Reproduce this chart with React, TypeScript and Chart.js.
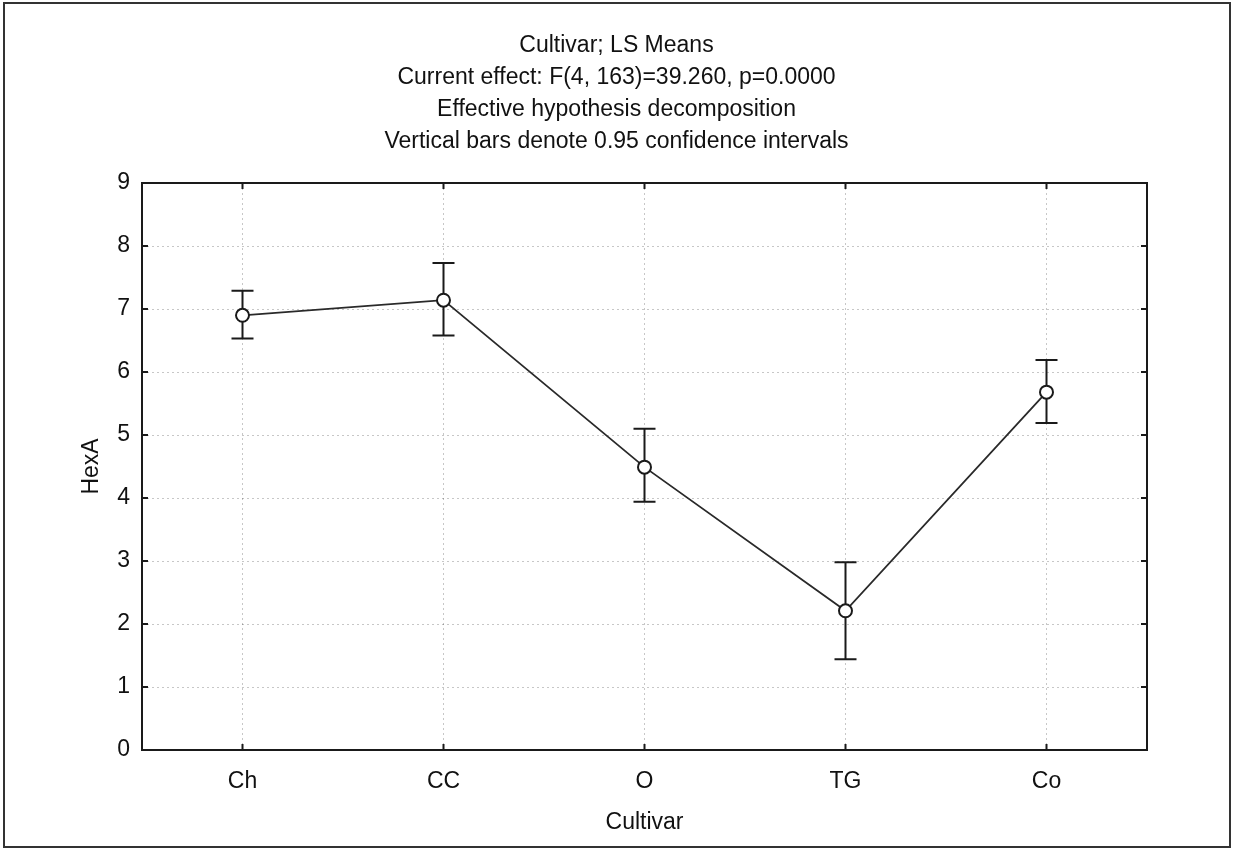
import React, { useEffect, useRef } from "react";
import { Chart, registerables } from "chart.js";

Chart.register(...registerables);

const categories = ["Ch", "CC", "O", "TG", "Co"];
const means = [6.9, 7.14, 4.49, 2.21, 5.68];
const lower = [6.53, 6.58, 3.94, 1.44, 5.19];
const upper = [7.29, 7.73, 5.1, 2.98, 6.19];
const titleLines = [
  "Cultivar; LS Means",
  "Current effect: F(4, 163)=39.260, p=0.0000",
  "Effective hypothesis decomposition",
  "Vertical bars denote 0.95 confidence intervals",
];
const yTitle = "HexA";
const xTitle = "Cultivar";

const FONT = "'Liberation Sans', Arial, sans-serif";
const FS = 23;
const INK = "#1a1a1a";

const decorPlugin = {
  id: "decor",
  beforeDraw(chart: any) {
    const ctx = chart.ctx;
    ctx.save();
    ctx.fillStyle = "#fff";
    ctx.fillRect(0, 0, chart.width, chart.height);
    ctx.restore();
  },
  beforeDatasetsDraw(chart: any) {
    const ctx = chart.ctx;
    const xs = chart.scales.x;
    const ys = chart.scales.y;
    ctx.save();
    ctx.strokeStyle = INK;
    ctx.lineWidth = 2;
    const cap = 11;
    for (let i = 0; i < categories.length; i++) {
      const x = xs.getPixelForValue(i);
      const yl = ys.getPixelForValue(lower[i]);
      const yu = ys.getPixelForValue(upper[i]);
      ctx.beginPath();
      ctx.moveTo(x, yl);
      ctx.lineTo(x, yu);
      ctx.moveTo(x - cap, yl);
      ctx.lineTo(x + cap, yl);
      ctx.moveTo(x - cap, yu);
      ctx.lineTo(x + cap, yu);
      ctx.stroke();
    }
    ctx.restore();
  },
  afterDraw(chart: any) {
    const ctx = chart.ctx;
    const { left, right, top, bottom } = chart.chartArea;
    const xs = chart.scales.x;
    const ys = chart.scales.y;
    ctx.save();
    ctx.strokeStyle = INK;
    ctx.lineWidth = 2;
    ctx.strokeRect(left, top, right - left, bottom - top);
    const tl = 6;
    ctx.beginPath();
    ys.ticks.forEach((t: any) => {
      const y = ys.getPixelForValue(t.value);
      ctx.moveTo(left, y);
      ctx.lineTo(left + tl, y);
      ctx.moveTo(right, y);
      ctx.lineTo(right - tl, y);
    });
    for (let i = 0; i < categories.length; i++) {
      const x = xs.getPixelForValue(i);
      ctx.moveTo(x, top);
      ctx.lineTo(x, top + tl);
      ctx.moveTo(x, bottom);
      ctx.lineTo(x, bottom - tl);
    }
    ctx.stroke();
    // outer frame
    ctx.strokeStyle = "#333";
    ctx.lineWidth = 2;
    ctx.strokeRect(4, 3, 1226, 844);
    ctx.restore();
  },
};

export default function App() {
  const ref = useRef<HTMLCanvasElement | null>(null);
  useEffect(() => {
    if (!ref.current) return;
    const chart = new Chart(ref.current, {
      type: "line",
      data: {
        labels: categories,
        datasets: [
          {
            data: means,
            borderColor: "#2a2a2a",
            borderWidth: 1.8,
            pointRadius: 6.5,
            pointBackgroundColor: "#fff",
            pointBorderColor: INK,
            pointBorderWidth: 2,
            tension: 0,
          },
        ],
      },
      options: {
        animation: false,
        responsive: false,
        devicePixelRatio: 1,
        layout: { padding: { top: 0, right: 0, bottom: 0, left: 0 } },
        plugins: {
          legend: { display: false },
          tooltip: { enabled: false },
          title: {
            display: true,
            text: titleLines,
            color: "#111",
            font: { family: FONT, size: FS, weight: "normal", lineHeight: 32 / FS },
            padding: { top: 30, bottom: 25 },
          },
        },
        scales: {
          x: {
            type: "category",
            offset: true,
            grid: {
              display: true,
              offset: false,
              drawTicks: false,
              color: "rgba(0,0,0,0.22)",
              lineWidth: 1,
            },
            border: { display: false, dash: [2, 3] },
            ticks: {
              color: "#111",
              padding: 18,
              font: { family: FONT, size: FS },
            },
            title: {
              display: true,
              text: xTitle,
              color: "#111",
              font: { family: FONT, size: FS },
              padding: { top: 0, bottom: 14 },
            },
            afterFit: (scale: any) => {
              scale.height = 100;
            },
          },
          y: {
            min: 0,
            max: 9,
            ticks: {
              stepSize: 1,
              color: "#111",
              padding: 12,
              font: { family: FONT, size: FS },
            },
            grid: {
              display: true,
              drawTicks: false,
              color: "rgba(0,0,0,0.22)",
              lineWidth: 1,
            },
            border: { display: false, dash: [2, 3] },
            title: {
              display: true,
              text: yTitle,
              color: "#111",
              font: { family: FONT, size: FS },
              padding: { top: 78, bottom: 0 },
            },
            afterFit: (scale: any) => {
              scale.width = 142;
            },
          },
          y2: {
            position: "right",
            min: 0,
            max: 9,
            display: true,
            ticks: { display: false },
            grid: { display: false, drawTicks: false },
            border: { display: false },
            afterFit: (scale: any) => {
              scale.width = 86;
            },
          },
        },
      },
      plugins: [decorPlugin],
    });
    return () => chart.destroy();
  }, []);
  return (
    <div style={{ position: "absolute", left: 0, top: 0, width: 1233, height: 850 }}>
      <canvas ref={ref} width={1233} height={850} style={{ display: "block" }} />
    </div>
  );
}
